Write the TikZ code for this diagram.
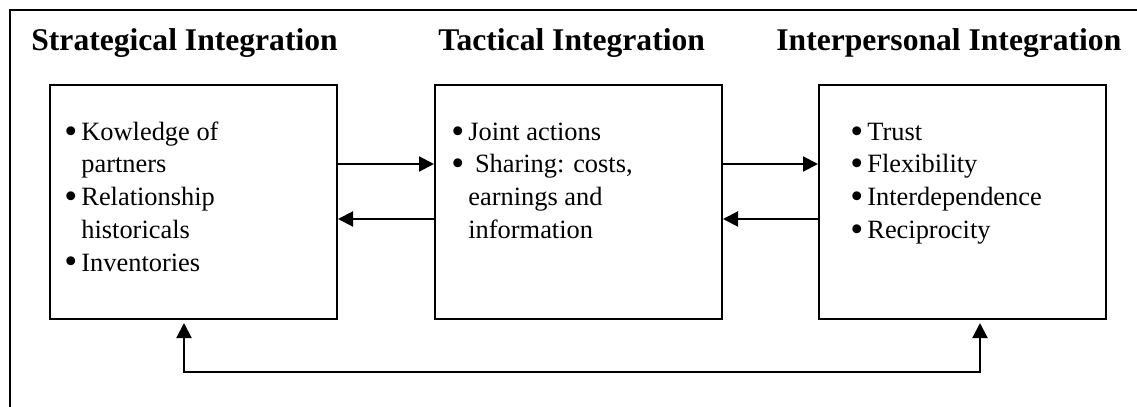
\documentclass[tikz,border=0pt]{standalone}
\usepackage{fontspec}
\setmainfont{Liberation Serif}
\usepackage{tikz}
\usetikzlibrary{positioning}
\usetikzlibrary{arrows.meta}

\newcommand{\bodysize}{\fontsize{13.2}{16.35}\selectfont}
\newcommand{\headsize}{\fontsize{15.8}{19}\selectfont\bfseries}
\newcommand{\bul}{\makebox[8.5pt][l]{\raisebox{-1.4pt}{\scalebox{1.4}{\textbullet}}}}

\begin{document}
\begin{tikzpicture}[
    x=0.5pt, y=-0.5pt,
    node distance=48pt,
    box/.style={draw, rectangle, line width=1pt,
                minimum width=143.5pt, minimum height=117pt,
                inner sep=0pt},
    heading/.style={anchor=base west, inner sep=0pt, font=\headsize},
    itemlist/.style={anchor=north west, inner sep=0pt, font=\bodysize},
    link/.style={->, line width=1pt},
    >={Triangle[length=7.5pt, width=7.5pt]}
  ]
    \useasboundingbox (0,0) rectangle (1137,407);

    % cadre
    \draw[line width=1pt] (1137,10) -- (10,10) -- (10,407);

    % Les trois blocs
    \node[box] (strategic) at (193.5,202) {};
    \node[box, right=of strategic] (tactical) {};
    \node[box, right=47.5pt of tactical] (interpersonal) {};

    % Titres
    \node[heading] (strategichead) at (31,50) {Strategical Integration};
    \node[heading] (tacticalhead) at (438,50) {Tactical Integration};
    \node[heading] (interpersonalhead) at (776,50) {Interpersonal Integration};

    % Contenu des blocs
    \node[itemlist] (strategiclist) at ([xshift=7.5pt, yshift=-16.5pt]strategic.north west)
      {\begin{tabular}{@{}l@{}l@{}}
        \bul & Kowledge of \\
             & partners \\
        \bul & Relationship \\
             & historicals \\
        \bul & Inventories
      \end{tabular}};
    \node[itemlist] (tacticallist) at ([xshift=8.5pt, yshift=-16.5pt]tactical.north west)
      {\begin{tabular}{@{}l@{}l@{}}
        \bul & Joint actions \\
        \bul & \ Sharing: costs, \\
             & earnings and \\
             & information
      \end{tabular}};
    \node[itemlist] (interpersonallist) at ([xshift=16pt, yshift=-16.5pt]interpersonal.north west)
      {\begin{tabular}{@{}l@{}l@{}}
        \bul & Trust \\
        \bul & Flexibility \\
        \bul & Interdependence \\
        \bul & Reciprocity
      \end{tabular}};

    % Flèches entre blocs
    \draw[link] ([yshift=19pt]strategic.east) -- ([yshift=19pt]tactical.west);
    \draw[link] ([yshift=-8.5pt]tactical.west) -- ([yshift=-8.5pt]strategic.east);
    \draw[link] ([yshift=19pt]tactical.east) -- ([yshift=19pt]interpersonal.west);
    \draw[link] ([yshift=-8.5pt]interpersonal.west) -- ([yshift=-8.5pt]tactical.east);

    % Boucle du bas
    \coordinate (loopleft) at (184,372);
    \coordinate (loopright) at (980,372);
    \draw[link, <->, shorten <=1.5pt, shorten >=1.5pt]
      (strategic.south -| loopleft) -- (loopleft) -- (loopright)
      -- (interpersonal.south -| loopright);
\end{tikzpicture}
\end{document}
